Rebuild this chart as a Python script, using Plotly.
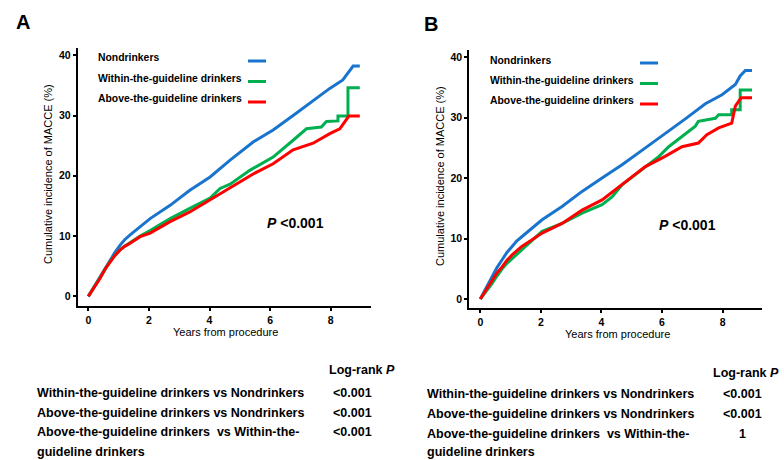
import plotly.graph_objects as go

# ---------------- data ----------------
groups = ["Nondrinkers", "Within-the-guideline drinkers", "Above-the-guideline drinkers"]
colors = ["#1874CD", "#00B050", "#FF0000"]

# Panel A
a_non_x = [0, 0.2, 0.39, 0.55, 0.72, 0.88, 1.05, 1.2, 1.38, 1.7, 2.04, 2.7, 3.35, 4.02, 4.68, 5.44, 6.1, 6.76, 7.42, 7.97, 8.4, 8.6, 8.74, 8.96]
a_non_y = [0, 1.7, 3.25, 4.7, 6.0, 7.3, 8.5, 9.4, 10.2, 11.5, 12.9, 15.1, 17.6, 19.8, 22.6, 25.6, 27.6, 30.0, 32.5, 34.5, 35.9, 37.3, 38.2, 38.2]
a_win_x = [0, 0.2, 0.39, 0.55, 0.72, 0.88, 1.05, 1.2, 1.38, 1.71, 2.04, 2.7, 3.35, 4.02, 4.35, 4.68, 5.33, 6.1, 6.76, 7.2, 7.69, 7.86, 8.24, 8.24, 8.57, 8.57, 8.96]
a_win_y = [0, 1.6, 3.0, 4.5, 5.8, 6.8, 7.7, 8.3, 8.9, 10.0, 10.9, 12.9, 14.6, 16.3, 17.9, 18.6, 20.9, 23.1, 25.9, 27.8, 28.1, 29.0, 29.1, 29.9, 29.9, 34.6, 34.6]
a_abv_x = [0, 0.2, 0.39, 0.55, 0.72, 0.88, 1.05, 1.2, 1.38, 1.71, 2.04, 2.7, 3.35, 4.02, 4.68, 5.44, 6.1, 6.76, 7.42, 7.97, 8.3, 8.52, 8.6, 8.96]
a_abv_y = [0, 1.5, 3.0, 4.5, 5.8, 6.8, 7.7, 8.3, 8.8, 9.9, 10.5, 12.4, 14.0, 16.0, 17.9, 20.3, 22.0, 24.3, 25.4, 27.0, 27.8, 29.5, 29.9, 29.9]

# Panel B
b_non_x = [0, 0.2, 0.39, 0.55, 0.72, 0.88, 1.05, 1.2, 1.37, 1.7, 2.04, 2.7, 3.36, 4.02, 4.68, 5.45, 6.1, 6.77, 7.43, 7.98, 8.42, 8.58, 8.75, 8.97]
b_non_y = [0, 1.9, 3.7, 5.2, 6.5, 7.7, 8.7, 9.6, 10.3, 11.7, 13.1, 15.3, 17.8, 20.0, 22.2, 25.0, 27.3, 29.8, 32.3, 33.8, 35.5, 36.9, 37.8, 37.8]
b_win_x = [0, 0.2, 0.39, 0.55, 0.72, 0.88, 1.05, 1.2, 1.37, 1.71, 2.04, 2.7, 3.36, 4.02, 4.35, 4.68, 5.34, 5.9, 6.22, 6.66, 7.1, 7.2, 7.76, 7.87, 8.3, 8.3, 8.58, 8.58, 8.97]
b_win_y = [0, 1.3, 2.6, 3.8, 5.0, 5.9, 6.7, 7.4, 8.1, 9.7, 11.2, 12.5, 14.2, 15.6, 16.9, 18.9, 21.4, 23.6, 25.2, 26.9, 28.6, 29.4, 29.9, 30.5, 30.5, 31.3, 31.3, 34.6, 34.6]
b_abv_x = [0, 0.2, 0.39, 0.55, 0.72, 0.88, 1.05, 1.2, 1.37, 1.71, 2.04, 2.7, 3.36, 4.02, 4.68, 5.45, 6.1, 6.66, 7.2, 7.48, 7.87, 8.3, 8.42, 8.61, 8.97]
b_abv_y = [0, 1.5, 3.1, 4.3, 5.3, 6.4, 7.3, 8.0, 8.7, 9.8, 10.9, 12.5, 14.7, 16.4, 18.9, 21.9, 23.6, 25.2, 25.8, 27.2, 28.3, 29.1, 31.9, 33.3, 33.3]

x_ticks = [0, 2, 4, 6, 8]
y_ticks = [0, 10, 20, 30, 40]

comparisons = ["Within-the-guideline drinkers vs Nondrinkers",
               "Above-the-guideline drinkers vs Nondrinkers",
               "Above-the-guideline drinkers  vs Within-the-",
               "guideline drinkers"]
a_pvals = ["<0.001", "<0.001", "<0.001"]
b_pvals = ["<0.001", "<0.001", "1"]

W, H = 784, 460
FONT = "Liberation Sans, Arial, sans-serif"

def px(x):
    return x / W

def py(y):
    return 1 - y / H

fig = go.Figure()

panels = [
    ("x", "y", [(a_non_x, a_non_y), (a_win_x, a_win_y), (a_abv_x, a_abv_y)]),
    ("x2", "y2", [(b_non_x, b_non_y), (b_win_x, b_win_y), (b_abv_x, b_abv_y)]),
]
for xa, ya, series in panels:
    for (xs, ys), name, col in zip(series, groups, colors):
        fig.add_trace(go.Scatter(x=xs, y=ys, mode="lines", name=name,
                                 line=dict(color=col, width=3),
                                 xaxis=xa, yaxis=ya, showlegend=False))

axis_common = dict(showline=True, linecolor="black", linewidth=2, ticks="outside",
                   ticklen=3, tickwidth=2, tickcolor="black", showgrid=False, zeroline=False,
                   tickfont=dict(family=FONT, size=10.5, color="black", weight="bold"))

fig.update_layout(
    width=W, height=H, margin=dict(l=0, r=0, t=0, b=0),
    paper_bgcolor="white", plot_bgcolor="white", showlegend=False,
    xaxis=dict(domain=[px(77.7), px(371)], range=[-0.35, 9.33], tickvals=x_ticks, anchor="y", **axis_common),
    yaxis=dict(domain=[py(306), py(48)], range=[-1.6, 41.2], tickvals=y_ticks, anchor="x", **axis_common),
    xaxis2=dict(domain=[px(469.3), px(762)], range=[-0.363, 9.30], tickvals=x_ticks, anchor="y2", **axis_common),
    yaxis2=dict(domain=[py(308), py(50)], range=[-1.49, 41.2], tickvals=y_ticks, anchor="x2", **axis_common),
)

ann = []
def text(x, y, s, size=11, bold=True, xanchor="left", angle=0):
    ann.append(dict(x=px(x), y=py(y), xref="paper", yref="paper", text=s, showarrow=False,
                    xanchor=xanchor, yanchor="middle", textangle=angle,
                    font=dict(family=FONT, size=size, color="black", weight="bold" if bold else "normal")))

shapes = []
for off, dy, letter, lx in [(0, 0, "A", 14), (392, 2, "B", 422)]:
    text(lx, 22 + dy, letter, size=20)
    # axis titles
    text(off + 48, 174 + dy, "Cumulative incidence of MACCE (%)", size=11, bold=False, xanchor="center", angle=-90)
    text(off + 225, 332 + dy * 0.8, "Years from procedure", size=11, bold=False, xanchor="center")
    # legend
    for i, (g, c) in enumerate(zip(groups, colors)):
        yy = 58 + dy + i * 20.5
        text(off + 95.5, yy, g, size=10.4)
        shapes.append(dict(type="line", xref="paper", yref="paper",
                           x0=px(off + 248), x1=px(off + 266), y0=py(yy + 3), y1=py(yy + 3),
                           line=dict(color=c, width=3)))
    # P value
    text(off + 295, 223 + dy, "<i>P</i> <0.001", size=14, xanchor="center")

# tables
for off, hx, pv, ys in [(0, 362, a_pvals, [370, 393, 413, 432, 452]),
                        (390, 356, b_pvals, [373, 394, 414, 434, 452])]:
    text(off + hx, ys[0], "Log-rank <i>P</i>", size=12.5, xanchor="center")
    for i, c in enumerate(comparisons):
        text(off + 35, ys[i + 1], c, size=12.5)
    for i, p in enumerate(pv):
        text(off + 352, ys[i + 1], p, size=12.5, xanchor="center")

fig.update_layout(annotations=ann, shapes=shapes)
fig.write_html("out.html")
